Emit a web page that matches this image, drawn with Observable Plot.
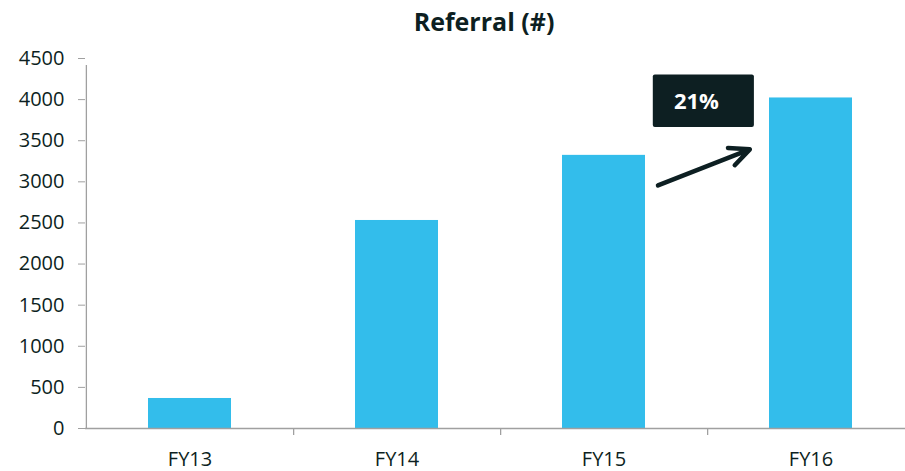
<!DOCTYPE html>
<html>
<head>
<meta charset="utf-8">
<script src="https://cdn.jsdelivr.net/npm/d3@7"></script>
<script src="https://cdn.jsdelivr.net/npm/@observablehq/plot@0.6"></script>
<style>
  html, body { margin: 0; padding: 0; background: #ffffff; }
  #title { height: 45px; line-height: 42px; width: 905px; padding-left: 63px; box-sizing: border-box;
    text-align: center; font-family: "Open Sans", sans-serif; font-weight: 700; font-size: 25px; color: #0d1f22; }
  #chart svg g[aria-label^="y-axis"] line, #chart svg g[aria-label^="y-axis"] path { stroke: #a0a0a0; }
</style>
</head>
<body>
<div id="title">Referral (#)</div>
<div id="chart"></div>
<script>
const categories = ["FY13", "FY14", "FY15", "FY16"];
const referrals = [365, 2530, 3322, 4020];
const yTicks = [0, 500, 1000, 1500, 2000, 2500, 3000, 3500, 4000, 4500];
const growthLabel = ["21%"];
const arrowFrom = ["FY15", 2699];
const arrowTo = ["FY16", 3687];
const labelBox = ["FY15", 3660, 4300];
const labelPos = ["FY15", 3971];

const data = categories.map((c, i) => ({cat: c, value: referrals[i]}));

const W = 905, H = 426, mL = 85, mR = -9;
const step = (W - mR - mL) / categories.length;
const axisGray = "#a0a0a0";
const dark = "#0d1f22";

const chart = Plot.plot({
  width: W,
  height: H,
  marginLeft: mL,
  marginRight: mR,
  marginTop: 13,
  marginBottom: 43,
  style: {fontFamily: "Open Sans, sans-serif", fontSize: "20px", color: dark, background: "white", overflow: "visible"},
  x: {domain: categories, paddingInner: 0.6, paddingOuter: 0.3, tickSize: 0, tickPadding: 23, label: null},
  y: {domain: [0, 4500], ticks: yTicks, tickSize: 7, tickPadding: 14, tickFormat: d => String(d), label: null},
  marks: [
    Plot.barY(data, {x: "cat", y: "value", fill: "#33bdeb"}),
    Plot.ruleY([0], {stroke: axisGray, strokeWidth: 1.3}),
    // y axis line with downward extension
    Plot.ruleX([categories[0]], {x: d => d, dx: -step / 2, y1: 0, y2: 4500, insetBottom: -7, stroke: axisGray, strokeWidth: 1.3}),
    // category boundary ticks
    Plot.ruleX(categories, {x: d => d, dx: step / 2, y1: 0, y2: 0, insetBottom: -7, stroke: axisGray, strokeWidth: 1.3}),
    // annotation box
    Plot.rect([labelBox], {x: d => d[0], y1: d => d[1], y2: d => d[2], insetLeft: 90.8, insetRight: -108.9, fill: dark, rx: 2}),
    Plot.text(growthLabel, {x: () => labelPos[0], y: () => labelPos[1], text: d => d, dx: 92.4, fill: "white", fontWeight: 700, fontSize: 22}),
    Plot.arrow([0], {x1: () => arrowFrom[0], y1: () => arrowFrom[1], x2: () => arrowTo[0], y2: () => arrowTo[1],
      insetStart: 58, insetEnd: 65.7, stroke: dark, strokeWidth: 4.5, headLength: 7.3, headAngle: 50, bend: 0, strokeLinecap: "round"})
  ]
});
document.getElementById("chart").appendChild(chart);
</script>
</body>
</html>
